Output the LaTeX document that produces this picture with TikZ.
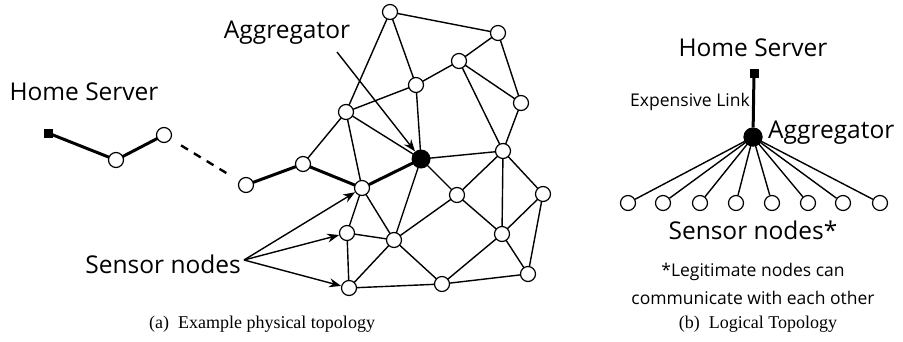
\documentclass[tikz,border=0pt]{standalone}
\usepackage{fontspec}
\setmainfont{Liberation Serif}
\newfontfamily\lblfont{Open Sans}
\usetikzlibrary{arrows.meta}
\begin{document}
\begin{tikzpicture}[x=1pt,y=-1pt,
  sn/.style={circle,draw,fill=white,line width=1.2pt,inner sep=0pt,minimum size=15pt},
  agg/.style={circle,fill=black,inner sep=0pt,minimum size=19pt},
  srv/.style={rectangle,fill=black,inner sep=0pt,minimum size=9pt},
  thin edge/.style={line width=1.4pt},
  thick edge/.style={line width=3pt},
  arr/.style={line width=1.4pt,-{Stealth[length=12pt,width=9pt]}},
  big/.style={font=\lblfont\fontsize{24.5}{28}\selectfont,inner sep=0pt},
  small/.style={font=\lblfont\fontsize{17.5}{28}\selectfont,inner sep=0pt},
  captext/.style={font=\fontsize{18}{20}\selectfont,inner sep=0pt}]
\useasboundingbox (0,0) rectangle (903,341);
% ---- left: physical topology
\coordinate (A) at (390,12); \coordinate (B) at (498,33); \coordinate (C) at (459,61);
\coordinate (D) at (416,85); \coordinate (E) at (346,112); \coordinate (F) at (521,103);
\coordinate (G) at (503,151); \coordinate (Ag) at (421,159); \coordinate (P) at (303,164);
\coordinate (Q) at (246,185); \coordinate (R) at (362,188); \coordinate (S) at (457,195);
\coordinate (T) at (543,194); \coordinate (U) at (347,233); \coordinate (V) at (394,240);
\coordinate (W) at (502,234); \coordinate (X) at (349,288); \coordinate (Y) at (442,284);
\coordinate (Z) at (528,274);
\coordinate (HS) at (48,133); \coordinate (H1) at (116,160); \coordinate (H2) at (164,135);
\foreach \a/\b in {A/B,A/E,A/D,B/C,B/F,C/D,C/F,C/G,E/D,E/P,E/R,E/Ag,D/Ag,F/G,Ag/G,Ag/S,Ag/V,
  G/S,G/T,G/W,R/U,R/V,U/V,U/X,X/V,X/Y,V/S,V/Y,Y/W,Y/Z,S/W,W/T,W/Z,T/Z}
  \draw[thin edge] (\a) -- (\b);
\foreach \a/\b in {P/Q,P/R,R/Ag,HS/H1,H1/H2}
  \draw[thick edge] (\a) -- (\b);
\draw[line width=2.4pt,dash pattern=on 8pt off 7pt,shorten <=20pt,shorten >=19pt] (H2) -- (Q);
\foreach \n in {A,B,C,D,E,F,G,P,Q,R,S,T,U,V,W,X,Y,Z,H1,H2}
  \node[sn] (n\n) at (\n) {};
\node[agg] (nAg) at (Ag) {};
\node[srv] (nHS) at (HS) {};
\node[big] (lhs) at (84,92) {Home Server};
\node[big] (lagg) at (287,33) {Aggregator};
\coordinate (aggtail) at (337,52);
\draw[arr] (aggtail) -- (nAg);
\node[big,anchor=east] (lsn) at (241,264) {Sensor nodes};
\coordinate (sntail) at (244,260);
\draw[arr] (sntail) -- (nR);
\draw[arr] (sntail) -- (nU);
\draw[arr] (sntail) -- (nX);
\node[captext] (capa) at (262,324) {(a)\ \ Example physical topology};
% ---- right: logical topology
\node[srv] (rhs) at (754,73) {};
\node[agg] (ragg) at (753,137) {};
\draw[thick edge] (rhs) -- (ragg);
\foreach \x [count=\i] in {628,663,700,736,772,808,843,880}{
  \node[sn] (r\i) at (\x,203) {};
  \draw[thin edge] (ragg.center) -- (r\i);
}
\node[agg] at (ragg) {};
\node[big] (rlhs) at (753,48) {Home Server};
\node[small] (rlink) at (690,102) {Expensive Link};
\node[big,anchor=west] (rlagg) at (768,133) {Aggregator};
\node[big] (rlsn) at (753,230) {Sensor nodes*};
\node[small,align=center] (rnote) at (753,284) {*Legitimate nodes can\\communicate with each other};
\node[captext] (capb) at (758,324) {(b)\ \ Logical Topology};
\end{tikzpicture}
\end{document}
